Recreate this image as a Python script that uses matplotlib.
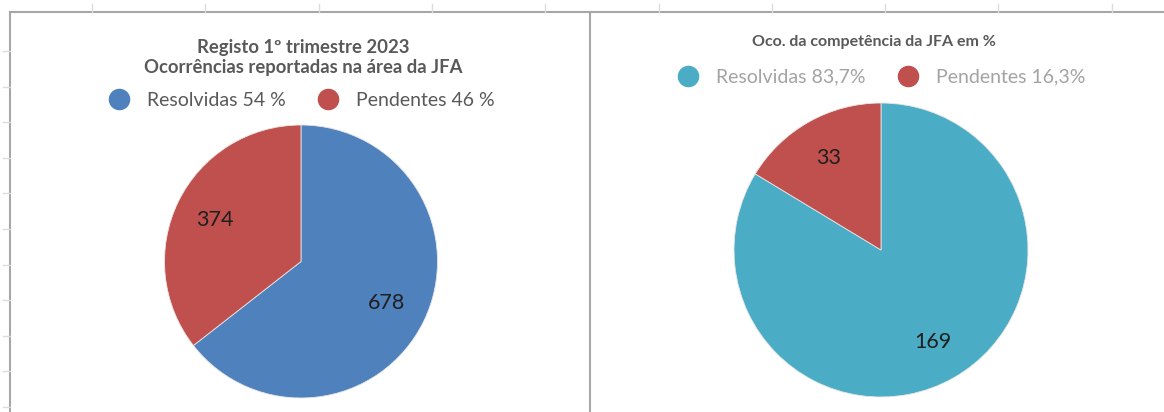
import numpy as np
import matplotlib.pyplot as plt
from matplotlib.lines import Line2D

plt.rcParams['font.family'] = ['Lato', 'DejaVu Sans']

W, H = 1164, 412

# painel esquerdo
registo_valores = [678, 374]
registo_legenda = ['Resolvidas 54 %', 'Pendentes 46 %']
registo_cores = ['#4F81BD', '#C0504D']
registo_titulo = ['Registo 1º trimestre 2023', 'Ocorrências reportadas na área da JFA']

# painel direito
compet_valores = [169, 33]
compet_legenda = ['Resolvidas 83,7%', 'Pendentes 16,3%']
compet_cores = ['#4BACC6', '#C0504D']
compet_titulo = 'Oco. da competência da JFA em %'

fig = plt.figure(figsize=(W / 100, H / 100), dpi=100)


def fx(x):
    return x / W


def fy(y):
    return 1 - y / H


def pie(cx, cy, r, valores, cores, dist):
    ax = fig.add_axes([fx(cx - r), fy(cy + r), 2 * r / W, 2 * r / H])
    total = sum(valores)
    ax.pie(valores, colors=cores, startangle=90, counterclock=False,
           autopct=lambda p: f'{round(p * total / 100)}', pctdistance=dist,
           wedgeprops=dict(edgecolor='#e6e6e6', linewidth=0.6),
           textprops=dict(fontsize=15.5, color='#1f1f1f'))
    ax.set_xlim(-1, 1)
    ax.set_ylim(-1, 1)
    return ax


def legenda(cores, textos, cx, cy, cor_texto):
    handles = [Line2D([], [], ls='none', marker='o', markersize=14.5,
                      markerfacecolor=c, markeredgecolor=c) for c in cores]
    fig.legend(handles, textos, loc='center', bbox_to_anchor=(fx(cx), fy(cy)),
               ncol=2, frameon=False, fontsize=14, labelcolor=cor_texto,
               handlelength=1.2, handletextpad=0.84, columnspacing=1.56,
               borderpad=0, borderaxespad=0)


pie(301, 261.5, 136.5, registo_valores, registo_cores, 0.70)
pie(881, 250, 147, compet_valores, compet_cores, 0.72)

fig.text(fx(303), fy(53), registo_titulo[0], ha='center', va='baseline',
         fontsize=13.3, weight='bold', color='#595959')
fig.text(fx(303), fy(73), registo_titulo[1], ha='center', va='baseline',
         fontsize=13.3, weight='bold', color='#595959')
fig.text(fx(874), fy(46), compet_titulo, ha='center', va='baseline',
         fontsize=11.5, weight='bold', color='#595959')

legenda(registo_cores, registo_legenda, 301, 100, '#595959')
legenda(compet_cores, compet_legenda, 881, 77, '#a3a3a3')

# moldura e grelha da folha de cálculo
cinza = '#a6a6a6'
fig.add_artist(Line2D([fx(10), 1], [fy(12), fy(12)], color=cinza, lw=1.5))
fig.add_artist(Line2D([fx(10), fx(10)], [0, fy(12)], color=cinza, lw=1.5))
fig.add_artist(Line2D([fx(590), fx(590)], [0, fy(12)], color=cinza, lw=1.5))
for x in np.arange(92, W, 113.3):
    fig.add_artist(Line2D([fx(x), fx(x)], [fy(4), fy(12)], color='#dcdcdc', lw=1))
for y in np.arange(51, H, 35.6):
    fig.add_artist(Line2D([fx(3), fx(10)], [fy(y), fy(y)], color='#dcdcdc', lw=1))

fig.savefig('out.png', dpi=100)
